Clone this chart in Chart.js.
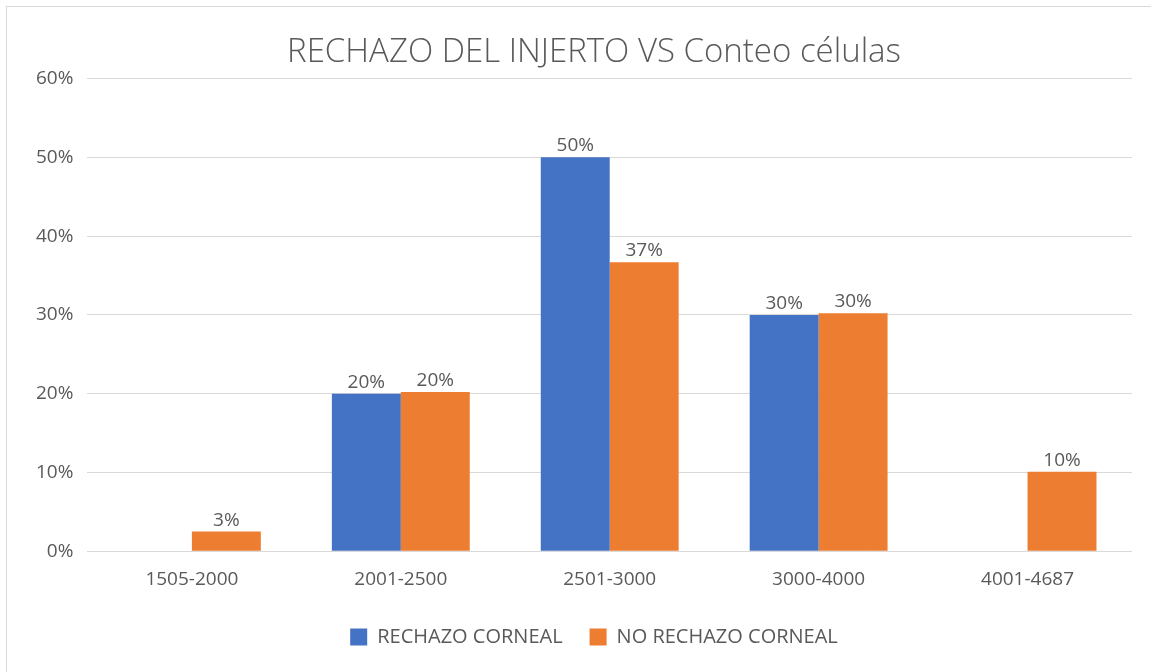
<!DOCTYPE html>
<html>
<head>
<meta charset="utf-8">
<script src="https://cdn.jsdelivr.net/npm/chart.js@4.4.0/dist/chart.umd.min.js"></script>
<style>
  html, body { margin: 0; padding: 0; background: #fff; overflow: hidden; }
  .frame { position: absolute; left: 6px; top: 6px; width: 1160px; height: 680px; border: 1px solid #d9d9d9; box-sizing: border-box; }
  .wrap { position: absolute; left: 0; top: 0; width: 1188px; height: 672px; }
</style>
</head>
<body>
<div class="frame"></div>
<div class="wrap"><canvas id="chart"></canvas></div>
<script>
// categories and values (percent)
const categories = ['1505-2000', '2001-2500', '2501-3000', '3000-4000', '4001-4687'];
const rechazoCorneal = [null, 20, 50, 30, null];
const noRechazoCorneal = [2.5, 20.2, 36.7, 30.2, 10.1];
const yTicks = [0, 10, 20, 30, 40, 50, 60];

const textColor = '#595959';
const fontFamily = "'Open Sans', 'Noto Sans', sans-serif";

// draw value labels above each bar
const barLabels = {
  id: 'barLabels',
  afterDatasetsDraw(chart) {
    const ctx = chart.ctx;
    ctx.save();
    ctx.font = '19px ' + fontFamily;
    ctx.fillStyle = textColor;
    ctx.textAlign = 'center';
    ctx.textBaseline = 'alphabetic';
    chart.data.datasets.forEach((ds, i) => {
      chart.getDatasetMeta(i).data.forEach((bar, j) => {
        const v = ds.data[j];
        if (v == null) return;
        ctx.fillText(Math.round(v) + '%', bar.x, bar.y - 6);
      });
    });
    ctx.restore();
  }
};

new Chart(document.getElementById('chart'), {
  type: 'bar',
  data: {
    labels: categories,
    datasets: [
      { label: 'RECHAZO CORNEAL', data: rechazoCorneal, backgroundColor: '#4472c4' },
      { label: 'NO RECHAZO CORNEAL', data: noRechazoCorneal, backgroundColor: '#ed7d31' }
    ]
  },
  options: {
    responsive: true,
    maintainAspectRatio: false,
    animation: false,
    categoryPercentage: 0.66,
    barPercentage: 1,
    layout: { padding: { left: 22, right: 22, top: 18, bottom: 15 } },
    plugins: {
      title: {
        display: true,
        text: 'RECHAZO DEL INJERTO VS Conteo células',
        color: textColor,
        font: { family: fontFamily, size: 33, weight: '300' },
        padding: { top: 15, bottom: 6 }
      },
      legend: {
        position: 'bottom',
        labels: {
          color: textColor,
          font: { family: fontFamily, size: 20 },
          boxWidth: 17,
          boxHeight: 17,
          padding: 27
        }
      },
      tooltip: { enabled: false }
    },
    scales: {
      x: {
        grid: { display: false },
        border: { display: false },
        ticks: { color: textColor, font: { family: fontFamily, size: 19 }, padding: 9 }
      },
      y: {
        min: yTicks[0],
        max: yTicks[yTicks.length - 1],
        afterBuildTicks: axis => { axis.ticks = yTicks.map(v => ({ value: v })); },
        grid: { color: '#d9d9d9', drawTicks: false },
        border: { display: false },
        ticks: { color: textColor, font: { family: fontFamily, size: 19 }, padding: 14, callback: v => v + '%' }
      },
      // empty right-hand spacer so title and legend centre like the original
      yRight: {
        position: 'right',
        grid: { display: false },
        border: { display: false },
        ticks: { display: false },
        afterFit: axis => { axis.width = 34; }
      }
    }
  },
  plugins: [barLabels]
});
</script>
</body>
</html>
